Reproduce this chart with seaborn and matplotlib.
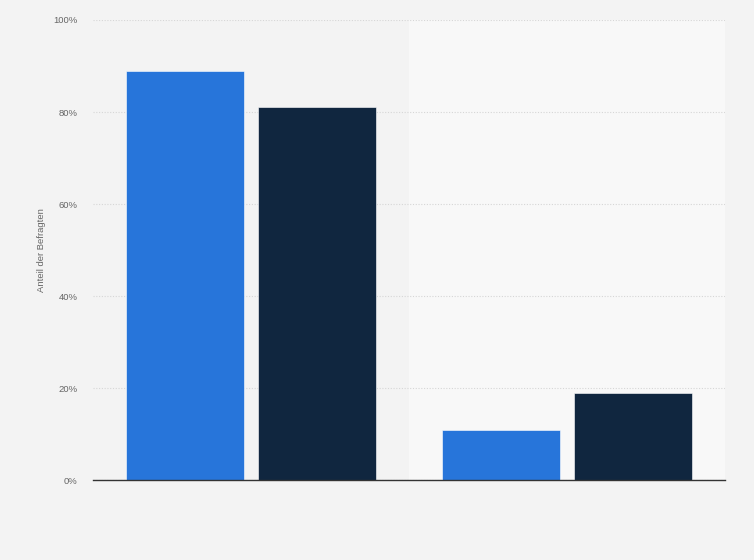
import numpy as np
import pandas as pd
import seaborn as sns
import matplotlib.pyplot as plt
from matplotlib.ticker import FuncFormatter

# Data (share of respondents, %)
groups = ["Gruppe 1", "Gruppe 2"]
series = ["Reihe A", "Reihe B"]
values_a = [89, 11]
values_b = [81, 19]
colors = ["#2775da", "#10263f"]

df = pd.DataFrame({
    "group": groups * 2,
    "series": [series[0]] * 2 + [series[1]] * 2,
    "value": values_a + values_b,
})

sns.set_theme(style="white")
plt.rcParams["font.family"] = ["Liberation Sans", "DejaVu Sans"]

fig = plt.figure(figsize=(7.54, 5.60), dpi=100, facecolor="#f3f3f3")
ax = fig.add_axes([0.1233, 0.142, 0.8382, 0.8223])
ax.set_facecolor("#f3f3f3")

# lighter band behind the second group
ax.axvspan(0.5, 1.5, color="#f8f8f8", zorder=0)

sns.barplot(data=df, x="group", y="value", hue="series", palette=colors,
            saturation=1, width=0.83, gap=0.1, ax=ax, legend=False, zorder=3,
            edgecolor="#ffffff", linewidth=0.4)

ax.set_xlim(-0.5, 1.5)
ax.set_ylim(0, 100)
ax.set_yticks([0, 20, 40, 60, 80, 100])
ax.yaxis.set_major_formatter(FuncFormatter(lambda v, p: f"{int(v)}%"))
ax.tick_params(axis="y", length=0, pad=11, labelsize=6.8, labelcolor="#666666")
ax.set_xticks([])
ax.set_xlabel("")
ax.set_ylabel("Anteil der Befragten", fontsize=6.8, color="#666666", labelpad=5)

ax.grid(axis="y", color="#d6d6d6", linestyle=(0, (1, 1.5)), linewidth=0.8, zorder=1)
ax.set_axisbelow(True)
for s in ["top", "right", "left"]:
    ax.spines[s].set_visible(False)
ax.spines["bottom"].set_color("#333333")
ax.spines["bottom"].set_linewidth(1.0)
ax.spines["bottom"].set_zorder(5)

fig.savefig("out.png", dpi=100, facecolor=fig.get_facecolor())
